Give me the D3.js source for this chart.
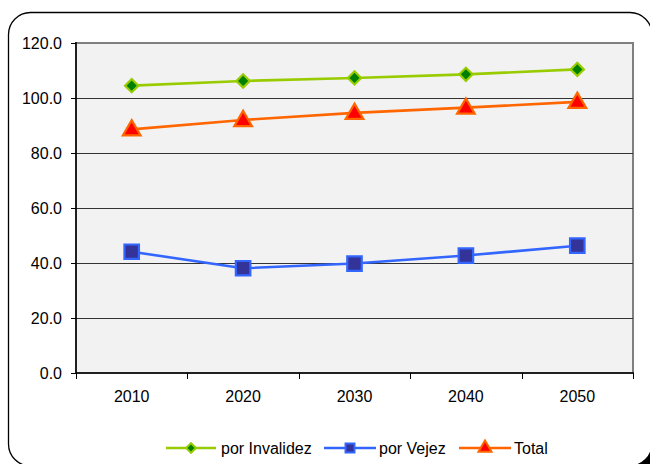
<!DOCTYPE html>
<html>
<head>
<meta charset="utf-8">
<script src="https://cdn.jsdelivr.net/npm/d3@7/dist/d3.min.js"></script>
<style>
  html, body { margin: 0; padding: 0; background: #fff; }
  svg { display: block; font-family: "Liberation Sans", Arial, sans-serif; }
</style>
</head>
<body>
<svg id="chart" width="650" height="464"></svg>
<script>
const years = ["2010", "2020", "2030", "2040", "2050"];
const invalidez = [104.5, 106.2, 107.3, 108.6, 110.4];
const vejez = [44.1, 38.1, 39.8, 42.7, 46.3];
const total = [88.6, 92.0, 94.6, 96.5, 98.6];
const yTicks = [0, 20, 40, 60, 80, 100, 120];
const seriesNames = ["por Invalidez", "por Vejez", "Total"];

const series = [
  { name: seriesNames[0], values: invalidez, line: "#99CC00", fill: "#008000", type: "diamond" },
  { name: seriesNames[1], values: vejez, line: "#3366FF", fill: "#333399", type: "square" },
  { name: seriesNames[2], values: total, line: "#FF6600", fill: "#FF0000", type: "triangle" }
];

const svg = d3.select("#chart");
const pLeft = 76, pRight = 633, pTop = 43, pBottom = 373;
const FS = 16;

// black outside corner at bottom-right
svg.append("rect").attr("x", 610).attr("y", 430).attr("width", 40).attr("height", 34).attr("fill", "#000");
// outer rounded frame
svg.append("rect")
  .attr("x", 8.5).attr("y", 12.5).attr("width", 643.5).attr("height", 453.5)
  .attr("rx", 22).attr("ry", 22)
  .attr("fill", "#fff").attr("stroke", "#000").attr("stroke-width", 1.3);

const x = d3.scaleBand().domain(years).range([pLeft, pRight]).padding(0);
const y = d3.scaleLinear().domain([0, 120]).range([pBottom, pTop]);

// plot area
svg.append("rect")
  .attr("x", pLeft).attr("y", pTop).attr("width", pRight - pLeft).attr("height", pBottom - pTop)
  .attr("fill", "#F2F2F2").attr("stroke", "#808080").attr("stroke-width", 2);

// gridlines
svg.append("g").selectAll("line")
  .data(yTicks.filter(d => d > 0 && d < 120))
  .join("line")
  .attr("x1", pLeft).attr("x2", pRight)
  .attr("y1", d => Math.round(y(d)) + 0.5).attr("y2", d => Math.round(y(d)) + 0.5)
  .attr("stroke", "#333").attr("stroke-width", 1);

// y axis
const yAxis = svg.append("g")
  .attr("transform", `translate(${pLeft},0)`)
  .call(d3.axisLeft(y).tickValues(yTicks).tickFormat(d3.format(".1f")).tickSize(5).tickPadding(9));
yAxis.select(".domain").remove();
yAxis.append("line").attr("x1", 0).attr("x2", 0).attr("y1", pTop - 1).attr("y2", pBottom)
  .attr("stroke", "#000").attr("stroke-width", 1.5);
yAxis.selectAll(".tick line").attr("stroke", "#000");
yAxis.selectAll(".tick text").attr("fill", "#000").style("font-size", FS + "px")
  .style("font-family", "'Liberation Sans', Arial, sans-serif");

// x axis
const xg = svg.append("g");
xg.append("line").attr("x1", pLeft).attr("x2", pRight + 1).attr("y1", pBottom).attr("y2", pBottom)
  .attr("stroke", "#000").attr("stroke-width", 1.5);
const boundaries = years.map(d => x(d)).concat([x(years[years.length - 1]) + x.bandwidth()]);
xg.selectAll("line.tk").data(boundaries).join("line").attr("class", "tk")
  .attr("x1", d => Math.round(d) + 0.5).attr("x2", d => Math.round(d) + 0.5)
  .attr("y1", pBottom).attr("y2", pBottom + 6)
  .attr("stroke", "#000").attr("stroke-width", 1);
xg.selectAll("text").data(years).join("text")
  .attr("x", d => x(d) + x.bandwidth() / 2).attr("y", 402)
  .attr("text-anchor", "middle").attr("font-size", FS).attr("fill", "#000")
  .text(d => d);

function markerPath(type, scale) {
  if (type === "diamond") return d3.symbol(d3.symbolSquare, 88 * scale)();
  if (type === "square") return d3.symbol(d3.symbolSquare, 210 * scale)();
  return d3.symbol(d3.symbolTriangle, 135 * scale)();
}

const cx = d => x(d) + x.bandwidth() / 2;
const lineGen = d3.line().x((d, i) => cx(years[i])).y(d => y(d));

series.forEach(s => {
  const g = svg.append("g");
  g.append("path").datum(s.values).attr("d", lineGen)
    .attr("fill", "none").attr("stroke", s.line).attr("stroke-width", 2.6);
  g.selectAll("path.m").data(s.values).join("path").attr("class", "m")
    .attr("d", markerPath(s.type, 1))
    .attr("transform", (d, i) => `translate(${cx(years[i])},${y(d) + (s.type === "triangle" ? 1 : 0)})` + (s.type === "diamond" ? " rotate(45)" : ""))
    .attr("fill", s.fill).attr("stroke", s.line).attr("stroke-width", 2.2)
    .attr("stroke-linejoin", "miter");
});

// legend
const legendItems = [
  { x0: 166, x1: 216, tx: 221 },
  { x0: 324, x1: 376, tx: 379 },
  { x0: 459, x1: 511, tx: 514 }
];
const ly = 448;
series.forEach((s, i) => {
  const L = legendItems[i];
  const g = svg.append("g");
  g.append("line").attr("x1", L.x0).attr("x2", L.x1).attr("y1", ly).attr("y2", ly)
    .attr("stroke", s.line).attr("stroke-width", 2.6);
  const mx = (L.x0 + L.x1) / 2;
  g.append("path").attr("d", markerPath(s.type, s.type === "square" ? 0.38 : 0.55))
    .attr("transform", `translate(${mx},${ly})` + (s.type === "diamond" ? " rotate(45)" : ""))
    .attr("fill", s.fill).attr("stroke", s.line).attr("stroke-width", 2);
  g.append("text").attr("x", L.tx).attr("y", ly + 6).attr("font-size", FS).attr("fill", "#000").text(s.name);
});
</script>
</body>
</html>
